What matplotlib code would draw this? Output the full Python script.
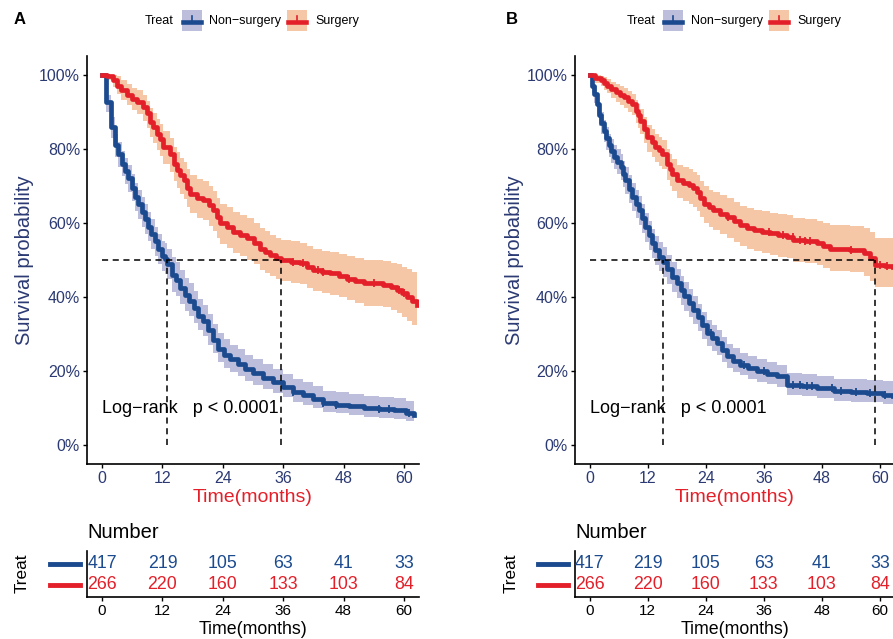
import numpy as np
import matplotlib.pyplot as plt
from matplotlib.patches import Rectangle
from matplotlib.lines import Line2D

plt.rcParams['font.family'] = ['Liberation Sans', 'DejaVu Sans']

W, H = 893, 639

# ---- data ----
groups = ['Non\u2212surgery', 'Surgery']
x_ticks = [0, 12, 24, 36, 48, 60]
y_ticks = [0, 0.2, 0.4, 0.6, 0.8, 1.0]
y_tick_labels = ['0%', '20%', '40%', '60%', '80%', '100%']
risk_non = [417, 219, 105, 63, 41, 33]
risk_surg = [266, 220, 160, 133, 103, 84]
pval_text = 'Log\u2212rank   p < 0.0001'

# panel A, non-surgery
a_non_t = [0, 0.8, 1.7, 2.6, 3.2, 3.9, 4.5, 5.2, 5.9, 6.6, 7.2, 7.9, 8.5, 9.1, 9.8, 10.5, 11.2, 11.9, 12.5, 13.0,
           13.8, 14.6, 15.5, 16.4, 17.3, 18.2, 19.1, 20.0, 21.0, 22.0, 23.0, 24.2, 25.5, 27.0, 28.5, 30.0, 32.0,
           34.0, 36.0, 38.0, 40.0, 42.0, 44.0, 46.5, 49.0, 52.0, 55.0, 58.0, 60.5, 62.0]
a_non_s = [1.0, .925, .858, .81, .785, .76, .74, .72, .695, .67, .65, .63, .61, .59, .57, .55, .53, .51, .503, .49,
           .46, .446, .425, .405, .39, .37, .35, .335, .31, .285, .26, .245, .232, .22, .205, .195, .182,
           .17, .157, .145, .135, .125, .115, .11, .106, .10, .097, .095, .088, .083]
a_non_hi = [1.0, .945, .885, .84, .817, .793, .775, .755, .732, .708, .689, .67, .65, .63, .61, .59, .57, .55, .545, .53,
            .508, .494, .473, .452, .437, .416, .395, .38, .354, .328, .302, .286, .272, .26, .244, .233, .22,
            .207, .193, .18, .17, .16, .148, .143, .139, .133, .13, .128, .12, .115]
a_non_lo = [1.0, .9, .828, .778, .752, .726, .705, .684, .658, .632, .611, .59, .57, .55, .53, .51, .49, .47, .462,
            .449, .415, .402, .382, .362, .348, .33, .31, .296, .272, .248, .224, .21, .198, .187, .173, .164,
            .152, .141, .13, .118, .109, .1, .091, .087, .083, .077, .074, .072, .066, .061]
a_non_cens = [38, 44, 46.5, 55, 57, 61]

# panel A, surgery
a_sur_t = [0, 1.0, 2.2, 3.0, 3.8, 4.9, 6.0, 6.9, 8.2, 8.9, 9.5, 10.2, 10.9, 11.6, 12.2, 13.5, 14.2, 14.8, 15.5, 16.2,
           16.9, 17.5, 18.8, 20.1, 21.2, 22.1, 22.8, 23.5, 24.8, 26.1, 27.5, 28.8, 30.1, 31.4, 32.4, 33.4, 34.5,
           35.6, 37.5, 39.4, 40.7, 42.0, 43.7, 45.3, 47.0, 48.6, 50.3, 52.0, 55.9, 57.5, 58.6, 59.6, 60.6, 61.6, 62.6]
a_sur_s = [1.0, .995, .985, .97, .957, .945, .935, .926, .912, .895, .872, .858, .84, .825, .805, .785, .76, .742,
           .728, .715, .695, .679, .668, .661, .648, .634, .615, .599, .588, .576, .567, .558, .545, .531, .522,
           .513, .505, .50, .495, .491, .482, .473, .468, .464, .457, .45, .443, .437, .433, .426, .419, .41,
           .401, .39, .379]
a_sur_hi = [1.0, 1.0, 1.0, .995, .985, .975, .965, .958, .946, .93, .91, .897, .88, .866, .848, .83, .806, .79, .776,
            .763, .745, .729, .718, .712, .7, .686, .668, .652, .642, .63, .621, .612, .6, .586, .577, .568, .56,
            .555, .551, .547, .538, .53, .525, .522, .516, .51, .505, .5, .498, .493, .488, .482, .475, .468, .465]
a_sur_lo = [1.0, .985, .967, .948, .932, .918, .905, .893, .876, .857, .832, .816, .797, .781, .759, .738, .712, .693,
            .678, .664, .643, .626, .614, .607, .593, .579, .56, .543, .532, .52, .51, .501, .488, .474, .465,
            .456, .448, .443, .438, .434, .425, .416, .41, .406, .399, .391, .384, .377, .372, .364, .356, .346,
            .336, .325, .313]
a_sur_cens = [38, 40, 43, 44, 49, 54, 59, 60]

# panel B, non-surgery
b_non_t = [0, 0.6, 1.0, 1.5, 1.9, 2.4, 2.9, 3.5, 4.0, 4.5, 5.0, 5.7, 6.4, 6.9, 7.4, 8.1, 8.8, 9.5, 10.2, 10.8,
           11.5, 12.2, 12.9, 13.6, 14.3, 15.1, 16.1, 17.1, 18.0, 18.8, 19.6, 20.5, 21.4, 22.3, 23.3, 24.3, 25.3,
           26.3, 27.4, 28.4, 29.7, 31.1, 32.8, 34.6, 36.6, 38.7, 40.8, 43.8, 46.9, 50.4, 54.0, 57.3, 60.7, 62.7]
b_non_s = [1.0, .97, .948, .92, .89, .87, .849, .828, .809, .795, .778, .765, .751, .733, .715, .692, .67, .652, .634,
           .612, .589, .567, .545, .527, .509, .495, .475, .455, .437, .419, .402, .384, .365, .345, .324, .303,
           .29, .276, .258, .24, .229, .218, .209, .20, .193, .186, .164, .16, .155, .146, .144, .142, .137, .133]
b_non_hi = [1.0, .985, .97, .945, .917, .898, .878, .858, .84, .827, .81, .798, .785, .768, .751, .729, .707, .69, .672,
            .651, .628, .606, .584, .566, .548, .534, .514, .494, .476, .458, .44, .422, .402, .382, .36, .339,
            .325, .31, .292, .273, .262, .25, .241, .232, .225, .218, .196, .192, .188, .18, .178, .177, .175, .177]
b_non_lo = [1.0, .95, .924, .893, .862, .841, .819, .797, .777, .762, .745, .731, .716, .697, .678, .654, .632, .613,
            .595, .572, .549, .527, .505, .487, .469, .455, .435, .415, .397, .379, .362, .345, .327, .308, .288,
            .268, .256, .243, .226, .209, .199, .189, .18, .172, .165, .158, .136, .133, .128, .12, .118, .116,
            .112, .108]
b_non_cens = [25, 32, 36, 42, 43.5, 45, 46, 50, 52, 55, 58, 61]

# panel B, surgery
b_sur_t = [0, 1.2, 2.3, 3.0, 3.6, 4.5, 5.4, 6.3, 7.1, 8.0, 8.8, 9.5, 10.0, 10.5, 11.2, 11.9, 12.8, 13.6, 14.3, 15.0,
           16.0, 16.6, 17.1, 18.1, 19.3, 20.5, 21.4, 22.2, 22.9, 23.6, 24.6, 25.6, 27.0, 28.4, 29.8, 31.1, 32.5,
           33.9, 35.6, 37.3, 39.0, 40.8, 42.1, 44.5, 46.9, 48.3, 49.7, 51.8, 53.8, 56.6, 57.9, 59.0, 61.0, 62.7]
b_sur_s = [1.0, .99, .984, .977, .97, .96, .952, .945, .939, .93, .921, .903, .89, .876, .853, .831, .818, .805, .796,
           .787, .76, .746, .733, .715, .708, .702, .693, .684, .668, .652, .643, .634, .625, .616, .605, .594,
           .587, .581, .576, .572, .567, .563, .554, .55, .545, .538, .531, .529, .527, .518, .505, .487, .484, .482]
b_sur_hi = [1.0, 1.0, .997, .993, .988, .98, .974, .968, .963, .955, .948, .932, .92, .907, .885, .864, .852, .84,
            .832, .824, .798, .785, .773, .756, .75, .745, .737, .729, .714, .699, .69, .682, .674, .666, .656,
            .646, .64, .635, .631, .628, .624, .621, .613, .61, .606, .6, .595, .594, .593, .586, .575, .56, .558, .557]
b_sur_lo = [1.0, .978, .968, .958, .95, .937, .927, .918, .91, .9, .89, .87, .855, .84, .815, .792, .778, .764, .754,
            .744, .715, .7, .686, .667, .659, .652, .642, .633, .616, .599, .589, .58, .57, .56, .549, .537, .53,
            .524, .519, .514, .509, .505, .495, .491, .486, .479, .471, .469, .467, .457, .444, .428, .427, .425]
b_sur_cens = [28.5, 37, 40, 42, 43.5, 44.5, 45.5, 54, 60, 61.5]

# ---- style ----
blue, blue_band = '#1B4A8E', '#BDBEDC'
red, red_band = '#E3202A', '#F6C7A7'
navy = '#2B3A73'


def fx(x):
    return x / W


def fy(y):
    return 1 - y / H


def rect(l, t, r, b):
    return [fx(l), fy(b), (r - l) / W, (b - t) / H]


def draw_km(ax, curves):
    for t, s, lo, hi, col, band, cens in curves:
        ax.fill_between(t, lo, hi, step='post', color=band, lw=0)
    for t, s, lo, hi, col, band, cens in curves:
        t, s = np.array(t), np.array(s)
        ax.step(t, s, where='post', color=col, lw=3.4)
        idx = np.searchsorted(t, cens, side='right') - 1
        ax.plot(cens, s[idx], ls='none', marker='|', ms=6, mew=1.3, color=col)
    meds = [np.array(c[0])[np.argmax(np.array(c[1]) <= 0.5)] for c in curves]
    ax.plot([0, max(meds)], [0.5, 0.5], color='black', lw=1.1, dashes=(4, 3))
    for m in meds:
        ax.plot([m, m], [0, 0.5], color='black', lw=1.1, dashes=(4, 3))
    ax.set_xlim(-3, 63)
    ax.set_ylim(-0.05, 1.05)
    ax.set_xticks(x_ticks)
    ax.set_yticks(y_ticks)
    ax.set_yticklabels(y_tick_labels)
    ax.tick_params(length=3, width=1, pad=2, labelsize=11.5, labelcolor=navy)
    ax.text(0, 0.1, pval_text, fontsize=13, ha='left', va='center')
    for sp in ['top', 'right']:
        ax.spines[sp].set_visible(False)
    for sp in ['left', 'bottom']:
        ax.spines[sp].set_linewidth(1.2)


def draw_risk(ax):
    for i, (n1, n2) in enumerate(zip(risk_non, risk_surg)):
        ax.text(x_ticks[i], 2, str(n1), color=blue, fontsize=12.8, ha='center', va='center')
        ax.text(x_ticks[i], 1, str(n2), color=red, fontsize=12.8, ha='center', va='center')
    ax.set_xlim(-3, 63)
    ax.set_ylim(0.4, 2.6)
    ax.set_xticks(x_ticks)
    ax.set_yticks([])
    ax.tick_params(length=3, width=1, pad=2, labelsize=11)
    for sp in ['top', 'right']:
        ax.spines[sp].set_visible(False)
    for sp in ['left', 'bottom']:
        ax.spines[sp].set_linewidth(1.2)


def legend_box(fig, l, band, col):
    fig.add_artist(Rectangle((fx(l), fy(31)), 20 / W, 21 / H, transform=fig.transFigure,
                             color=band, lw=0))
    fig.add_artist(Line2D([fx(l + 1), fx(l + 19)], [fy(21.5), fy(21.5)], transform=fig.transFigure,
                          color=col, lw=3.3))
    fig.add_artist(Line2D([fx(l + 10), fx(l + 10)], [fy(16), fy(21)], transform=fig.transFigure,
                          color=col, lw=1.2))


fig = plt.figure(figsize=(W / 100, H / 100), dpi=100)

panels = [
    dict(letter='A', lx=20, left=87, right=419, leg=(145, 182, 209, 287, 315), sw=(50, 80), ty=22,
         curves=[(a_non_t, a_non_s, a_non_lo, a_non_hi, blue, blue_band, a_non_cens),
                 (a_sur_t, a_sur_s, a_sur_lo, a_sur_hi, red, red_band, a_sur_cens)]),
    dict(letter='B', lx=512, left=575, right=894.6, leg=(627, 663, 691, 769, 797), sw=(538, 568), ty=511,
         curves=[(b_non_t, b_non_s, b_non_lo, b_non_hi, blue, blue_band, b_non_cens),
                 (b_sur_t, b_sur_s, b_sur_lo, b_sur_hi, red, red_band, b_sur_cens)]),
]

for p in panels:
    l, r = p['left'], p['right']
    cx = (l + r) / 2
    ax = fig.add_axes(rect(l, 56, r, 464))
    draw_km(ax, p['curves'])
    axr = fig.add_axes(rect(l, 551, r, 597))
    draw_risk(axr)

    fig.text(fx(p['lx']), fy(20), p['letter'], fontsize=12, fontweight='bold', ha='center', va='center')
    fig.text(fx(p['ty'] + 3), fy(260), 'Survival probability', fontsize=14.5, color=navy, rotation=90,
             ha='center', va='center')
    fig.text(fx(cx), fy(498), 'Time(months)', fontsize=14, color=red, ha='center', va='center')
    fig.text(fx(l), fy(532), 'Number', fontsize=14.5, ha='left', va='center')
    fig.text(fx(p['ty']), fy(573), 'Treat', fontsize=12.3, rotation=90, ha='center', va='center')
    fig.text(fx(cx), fy(629), 'Time(months)', fontsize=12.8, ha='center', va='center')

    tl, b1, t1, b2, t2 = p['leg']
    fig.text(fx(tl), fy(21), 'Treat', fontsize=9, ha='left', va='center')
    legend_box(fig, b1, blue_band, blue)
    fig.text(fx(t1), fy(21), groups[0], fontsize=9, ha='left', va='center')
    legend_box(fig, b2, red_band, red)
    fig.text(fx(t2), fy(21), groups[1], fontsize=9, ha='left', va='center')

    s0, s1 = p['sw']
    for yy, col in [(564, blue), (585, red)]:
        fig.add_artist(Line2D([fx(s0), fx(s1)], [fy(yy), fy(yy)], transform=fig.transFigure,
                              color=col, lw=3.5))

fig.savefig('out.png', dpi=100)
